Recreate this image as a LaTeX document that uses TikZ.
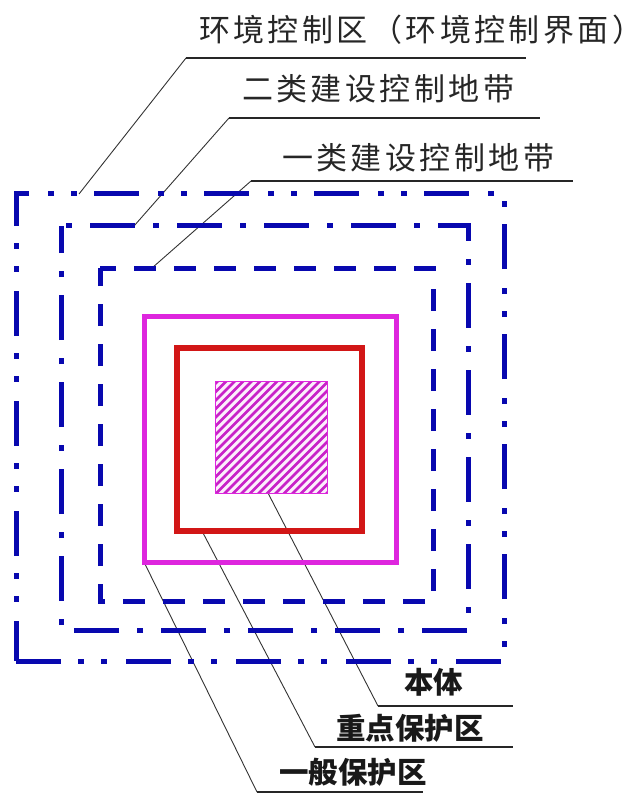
\documentclass[tikz,border=0pt]{standalone}
\usepackage{fontspec}
\newfontfamily\cjk{Noto Sans CJK SC}
\newfontfamily\cjksp[LetterSpace=11]{Noto Sans CJK SC}
\definecolor{zblue}{RGB}{8,8,175}
\definecolor{zmag}{RGB}{222,38,222}
\definecolor{zred}{RGB}{210,22,22}
\begin{document}
\begin{tikzpicture}[x=1pt,y=-1pt,
  toplabel/.style={anchor=base west,inner sep=0pt,font=\cjksp\fontsize{31}{31}\selectfont,text=black!85},
  botlabel/.style={anchor=base west,inner sep=0pt,font=\cjk\bfseries\fontsize{29.5}{29.5}\selectfont,text=black!90},
  leader/.style={draw=black!80,line width=0.9pt},
  underline/.style={draw=black!85,line width=1.3pt},
  zone/.style={line width=5pt,line cap=butt,line join=miter},
  envzone/.style={zone,draw=zblue,dash pattern=on 45pt off 17pt on 6pt off 17pt on 6pt off 19pt,dash phase=0pt},
  zonetwo/.style={zone,draw=zblue,dash pattern=on 45pt off 18pt on 6pt off 18pt,dash phase=58pt},
  zoneone/.style={zone,draw=zblue,dash pattern=on 22pt off 18pt,dash phase=6pt}
]
\useasboundingbox (0,0) rectangle (632,794);

% labels
\node[toplabel] (t1) at (199,41.8) {环境控制区（环境控制界面）\kern-32pt};
\node[toplabel] (t2) at (242,100.8) {二类建设控制地带};
\node[toplabel] (t3) at (282,169.8) {一类建设控制地带};
\node[botlabel] (b1) at (404,693) {本体};
\node[botlabel] (b2) at (336,739) {重点保护区};
\node[botlabel] (b3) at (279,783) {一般保护区};

% underline end points
\coordinate (u1l) at (186,58);  \coordinate (u1r) at (526,58);
\coordinate (u2l) at (229,118); \coordinate (u2r) at (540,118);
\coordinate (u3l) at (251,181); \coordinate (u3r) at (573,181);
\coordinate (v1l) at (378,706); \coordinate (v1r) at (513,706);
\coordinate (v2l) at (315,747); \coordinate (v2r) at (513,747);
\coordinate (v3l) at (257,792); \coordinate (v3r) at (423,792);

% leader targets
\coordinate (p1) at (79,194);
\coordinate (p2) at (134,226);
\coordinate (p3) at (152,268);
\coordinate (q1) at (268,493);
\coordinate (q2) at (202,531);
\coordinate (q3) at (144,562);

% leaders and underlines
\draw[underline] (u1l) -- (u1r);
\draw[underline] (u2l) -- (u2r);
\draw[underline] (u3l) -- (u3r);
\draw[underline] (v1l) -- (v1r);
\draw[underline] (v2l) -- (v2r);
\draw[underline] (v3l) -- (v3r);
\draw[leader] (u1l) -- (p1);
\draw[leader] (u2l) -- (p2);
\draw[leader] (u3l) -- (p3);
\draw[leader] (v1l) -- (q1);
\draw[leader] (v2l) -- (q2);
\draw[leader] (v3l) -- (q3);

% zones
\draw[envzone] (16,661) -- (504,661) -- (504,194) -- (16,194) -- cycle;
\draw[zonetwo] (61,226) -- (468,226) -- (468,630) -- (61,630) -- cycle;
\draw[zoneone] (100,268) -- (433,268) -- (433,601) -- (100,601) -- cycle;
\draw[zone,draw=zmag] (144,316) rectangle (396,562);
\draw[zone,draw=zred,line width=5.5pt] (177,348) rectangle (362,531);

% hatched core
\begin{scope}
  \clip (215,381) rectangle (327,493);
  \fill[zmag!8] (215,381) rectangle (327,493);
  \foreach \k in {-17,...,15}
    \draw[zmag!90!black,line width=2.6pt] (215+8.5*\k,503) -- (347+8.5*\k,371);
\end{scope}
\draw[zmag,line width=1pt] (215,381) rectangle (327,493);
\end{tikzpicture}
\end{document}
